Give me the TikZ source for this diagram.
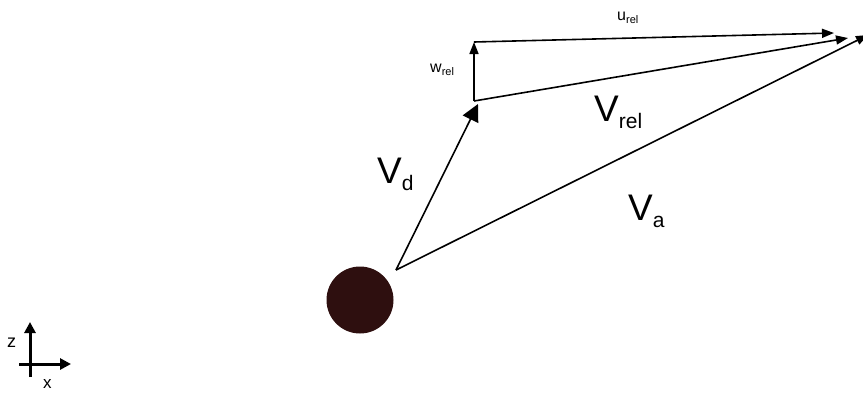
\documentclass[tikz,border=0pt]{standalone}
\usepackage{fontspec}
\setmainfont{Liberation Sans}
\usetikzlibrary{arrows.meta}
\definecolor{ball}{HTML}{2E0F0F}
\newcommand\biglab[1]{{\fontsize{37}{37}\selectfont V}\raisebox{-7pt}{\fontsize{21}{21}\selectfont #1}}
\newcommand\smalllab[2]{{\fontsize{16}{16}\selectfont #1}\raisebox{-3pt}{\fontsize{11}{11}\selectfont #2}}
\begin{document}
\begin{tikzpicture}[x=1pt,y=-1pt,
  vec/.style={line width=1.6pt,-{Triangle[length=12pt,width=9pt]}},
  bigvec/.style={line width=1.6pt,-{Triangle[length=17pt,width=17pt]}},
  lab/.style={inner sep=0pt,anchor=base west},
  axis/.style={line width=3pt,-{Triangle[length=11pt,width=11pt]}}]
\useasboundingbox (0,0) rectangle (863,392);
\fill[ball] (360,300) circle (33.5);
\coordinate (O) at (396,270);
\coordinate (B) at (474,101);
\coordinate (T) at (474,42);
\coordinate (U) at (834,33);
\coordinate (R) at (848,38);
\coordinate (A) at (868,35);
\coordinate (D) at (478,104);
\draw[bigvec] (O) -- (D);
\draw[vec] (B) -- (T);
\draw[vec] (T) -- (U);
\draw[vec] (B) -- (R);
\draw[vec] (O) -- (A);
\node[lab] (lrel) at (594,121) {\biglab{rel}};
\node[lab] (la) at (628,220) {\biglab{a}};
\node[lab] (ld) at (377,183) {\biglab{d}};
\node[lab] (lu) at (617,20) {\smalllab{u}{rel}};
\node[lab] (lw) at (430,72) {\smalllab{w}{rel}};
% axis icon
\coordinate (axb) at (30,377);
\coordinate (axl) at (19,364);
\coordinate (axz) at (30,322);
\coordinate (axx) at (71,364);
\draw[axis] (axb) -- (axz);
\draw[axis] (axl) -- (axx);
\node[lab] (lz) at (7,347) {\fontsize{18}{18}\selectfont z};
\node[lab] (lx) at (43,388) {\fontsize{17}{17}\selectfont x};
\end{tikzpicture}
\end{document}
